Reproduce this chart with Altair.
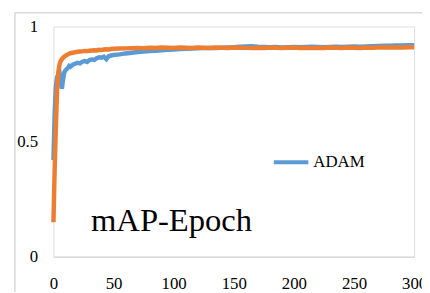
import altair as alt
import pandas as pd

epochs = list(range(0, 15)) + list(range(16, 51, 2)) + list(range(55, 301, 5))

adam = [0.42, 0.62, 0.74, 0.78, 0.79, 0.80, 0.76, 0.73, 0.77, 0.80, 0.81, 0.815, 0.82, 0.828, 0.825,
        0.834, 0.838, 0.842, 0.840, 0.847, 0.850, 0.846, 0.854, 0.857, 0.855, 0.862, 0.866, 0.864, 0.869,
        0.858, 0.871, 0.874, 0.876,
        0.879, 0.883, 0.886, 0.889, 0.891, 0.893, 0.895, 0.897, 0.899, 0.900, 0.902, 0.903, 0.904, 0.905,
        0.906, 0.907, 0.906, 0.908, 0.909, 0.910, 0.912, 0.913, 0.914, 0.912, 0.911, 0.910, 0.911, 0.909,
        0.910, 0.911, 0.910, 0.911, 0.912, 0.911, 0.910, 0.911, 0.912, 0.911, 0.912, 0.913, 0.912, 0.913,
        0.914, 0.915, 0.916, 0.917, 0.918, 0.918, 0.919, 0.919]

sgd = [0.15, 0.38, 0.56, 0.72, 0.80, 0.835, 0.850, 0.858, 0.864, 0.869, 0.873, 0.876, 0.879, 0.882, 0.884,
       0.886, 0.888, 0.890, 0.891, 0.892, 0.894, 0.893, 0.895, 0.896, 0.897, 0.896, 0.899, 0.898, 0.900,
       0.901, 0.900, 0.902, 0.903,
       0.904, 0.905, 0.906, 0.907, 0.906, 0.908, 0.907, 0.909, 0.908, 0.907, 0.909, 0.908, 0.907, 0.909,
       0.908, 0.907, 0.909, 0.908, 0.907, 0.909, 0.908, 0.907, 0.906, 0.908, 0.907, 0.909, 0.908, 0.907,
       0.908, 0.909, 0.907, 0.908, 0.906, 0.908, 0.907, 0.909, 0.908, 0.907, 0.909, 0.908, 0.907, 0.909,
       0.908, 0.909, 0.910, 0.909, 0.910, 0.909, 0.910, 0.910]

series_names = ["ADAM", "SGD"]
series_colors = ["#5B9BD5", "#ED7D31"]
x_ticks = [0, 50, 100, 150, 200, 250, 300]
y_ticks = [0, 0.5, 1]
title_text = "mAP-Epoch"

df = pd.concat([
    pd.DataFrame({"epoch": epochs, "mAP": adam, "series": series_names[0]}),
    pd.DataFrame({"epoch": epochs, "mAP": sgd, "series": series_names[1]}),
])

FONT = "Liberation Serif"

color = alt.Color(
    "series:N",
    scale=alt.Scale(domain=series_names, range=series_colors),
    legend=alt.Legend(
        values=["ADAM"], title=None, orient="none", legendX=221, legendY=118,
        symbolType="stroke", symbolSize=1225, symbolStrokeWidth=4,
        labelFont=FONT, labelFontSize=17, labelColor="black", labelOffset=3, padding=0,
    ),
)

xenc = alt.X("epoch:Q", scale=alt.Scale(domain=[0, 300], nice=False),
             axis=alt.Axis(values=x_ticks, title=None, grid=False, ticks=False, tickSize=0,
                           domainColor="#d9d9d9", domainWidth=1.5, labelFlush=False,
                           labelPadding=19, labelFont=FONT, labelFontSize=17, labelColor="black"))
yenc = alt.Y("mAP:Q", scale=alt.Scale(domain=[0, 1], nice=False),
             axis=alt.Axis(values=y_ticks, title=None, grid=False, ticks=False, tickSize=0,
                           domain=False, format=".1~f", labelPadding=16,
                           labelFont=FONT, labelFontSize=17, labelColor="black"))

frame_src = pd.DataFrame({"k": [0]})
frame_left = alt.Chart(frame_src).mark_rule(
    stroke="#d9d9d9", strokeWidth=1.5, clip=False
).encode(x=alt.value(-39), y=alt.value(-14), y2=alt.value(1000))
frame_top = alt.Chart(frame_src).mark_rule(
    stroke="#d9d9d9", strokeWidth=1.5, clip=False
).encode(x=alt.value(-39), x2=alt.value(1000), y=alt.value(-14))

line_adam = alt.Chart(df).transform_filter(alt.datum.series == "ADAM").mark_line(
    strokeWidth=4.5, clip=False).encode(x=xenc, y=yenc, color=color)
line_sgd = alt.Chart(df).transform_filter(alt.datum.series == "SGD").mark_line(
    strokeWidth=4.5, clip=False).encode(x=xenc, y=yenc, color=color)

title = alt.Chart(pd.DataFrame({"t": [title_text]})).mark_text(
    font=FONT, fontSize=33, align="left", baseline="alphabetic", color="black"
).encode(text="t:N", x=alt.value(38), y=alt.value(207))

chart = alt.layer(frame_left, frame_top, line_adam, line_sgd, title).properties(
    width=365, height=233,
    autosize=alt.AutoSizeParams(type="none"),
    padding={"left": 46, "top": 17, "right": 8, "bottom": 34},
).configure_view(stroke=None).configure(background="white")

chart.save("out.html", embed_options={"renderer": "svg", "actions": False})
